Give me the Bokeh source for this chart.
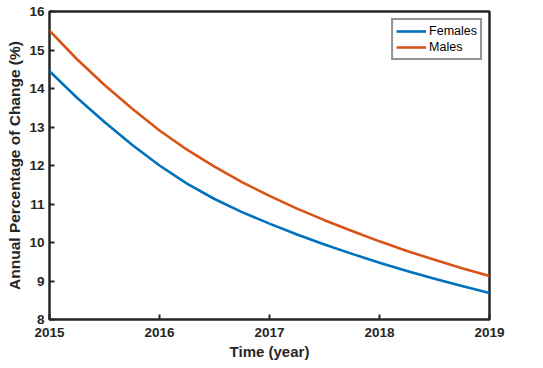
from bokeh.plotting import figure
from bokeh.models import FixedTicker, Range1d, Legend, LegendItem
from bokeh.embed import file_html
from bokeh.resources import INLINE

years = [2015, 2015.25, 2015.5, 2015.75, 2016, 2016.25, 2016.5, 2016.75, 2017,
         2017.25, 2017.5, 2017.75, 2018, 2018.25, 2018.5, 2018.75, 2019]
females = [14.45, 13.76, 13.13, 12.54, 12.00, 11.53, 11.13, 10.79, 10.49,
           10.21, 9.95, 9.705, 9.475, 9.26, 9.06, 8.87, 8.69]
males = [15.50, 14.76, 14.09, 13.48, 12.91, 12.41, 11.97, 11.57, 11.21,
         10.88, 10.58, 10.30, 10.03, 9.78, 9.55, 9.33, 9.13]
x_ticks = [2015, 2016, 2017, 2018, 2019]
y_ticks = [8, 9, 10, 11, 12, 13, 14, 15, 16]

FONT = "Liberation Sans"
DARK = "#262626"

p = figure(frame_width=440, frame_height=308, output_backend="svg",
           toolbar_location=None, x_range=Range1d(2015, 2019), y_range=Range1d(8, 16),
           min_border_left=49, min_border_top=11, min_border_right=50, min_border_bottom=45)
p.background_fill_color = "white"
p.border_fill_color = "white"
p.outline_line_color = DARK
p.outline_line_width = 2.5
p.xgrid.visible = False
p.ygrid.visible = False

r1 = p.line(years, females, line_color="#0072BD", line_width=2.6, line_join="round")
r2 = p.line(years, males, line_color="#D95319", line_width=2.6, line_join="round")

for ax in (p.xaxis[0], p.yaxis[0]):
    ax.axis_line_color = None
    ax.major_tick_in = 5
    ax.major_tick_out = 0
    ax.major_tick_line_color = DARK
    ax.major_tick_line_width = 2
    ax.minor_tick_line_color = None
    ax.major_label_text_font = FONT
    ax.major_label_text_font_style = "bold"
    ax.major_label_text_font_size = "13.5px"
    ax.major_label_text_color = DARK
    ax.axis_label_text_font = FONT
    ax.axis_label_text_font_style = "bold"
    ax.axis_label_text_color = DARK

p.xaxis.axis_label_text_font_size = "15px"
p.yaxis.axis_label_text_font_size = "15.5px"
p.xaxis.ticker = FixedTicker(ticks=x_ticks)
p.yaxis.ticker = FixedTicker(ticks=y_ticks)
p.xaxis.major_label_overrides = {t: str(t) for t in x_ticks}
p.xaxis.axis_label = "Time (year)"
p.yaxis.axis_label = "Annual Percentage of Change (%)"
p.xaxis.major_label_standoff = 8
p.xaxis.axis_label_standoff = 3
p.yaxis.major_label_standoff = 5
p.yaxis.axis_label_standoff = 3

legend = Legend(items=[LegendItem(label="Females", renderers=[r1]),
                       LegendItem(label="Males", renderers=[r2])],
                location="top_right")
legend.margin = 7
legend.padding = 3
legend.spacing = 0
legend.glyph_width = 30
legend.glyph_height = 16
legend.label_height = 16
legend.label_standoff = 3
legend.label_text_font = FONT
legend.label_text_font_size = "12.5px"
legend.label_text_color = "black"
legend.border_line_color = DARK
legend.border_line_width = 2.5
legend.background_fill_color = "white"
p.add_layout(legend)

open("out.html", "w").write(file_html(p, INLINE))
